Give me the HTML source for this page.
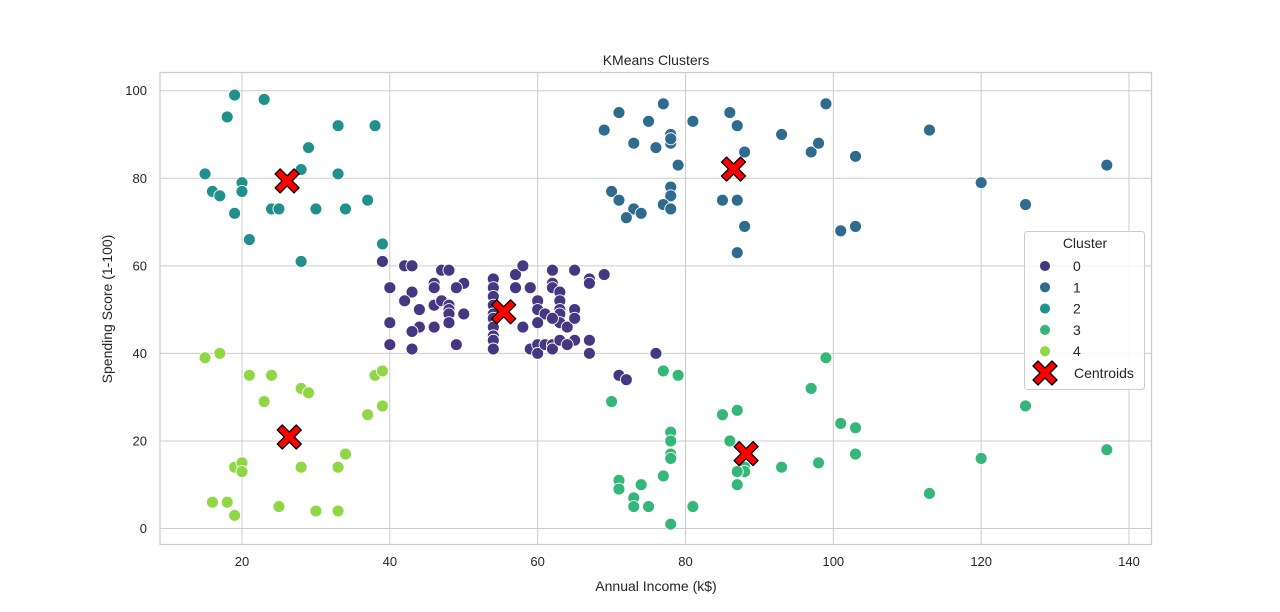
<!DOCTYPE html>
<html><head><meta charset="utf-8"><style>
body{margin:0;background:#fff;}
svg{display:block;font-family:"Liberation Sans",sans-serif;}
</style></head><body>
<svg id="chart" width="1280" height="612" xmlns="http://www.w3.org/2000/svg">
<rect x="0" y="0" width="1280" height="612" fill="#fff"/>
<g id="grid"></g>
<g id="points"></g>
<g id="cents"></g>
<rect x="160" y="72.5" width="991.5" height="472" fill="none" stroke="#cccccc" stroke-width="1.25"/>
<text x="656" y="65" text-anchor="middle" font-size="14" fill="#262626">KMeans Clusters</text>
<text x="656" y="591" text-anchor="middle" font-size="14" fill="#262626">Annual Income (k$)</text>
<text x="112" y="309" text-anchor="middle" font-size="14" fill="#262626" transform="rotate(-90 112 309)">Spending Score (1-100)</text>
<g id="legend"></g>
</svg>
<script>
const xTicks=[20,40,60,80,100,120,140];
const yTicks=[0,20,40,60,80,100];
const colors=["#453781","#2f6b8e","#20908c","#35b779","#8fd744"];
const c0x=[39,42,43,47,48,40,46,46,50,49,43,42,44,46,47,48,48,48,48,50,40,44,43,46,40,43,49,54,54,54,54,54,54,54,54,54,54,57,58,57,59,58,60,60,61,60,59,60,60,61,62,62,63,62,62,62,63,63,63,63,63,62,64,65,65,65,65,64,67,67,69,67,67,76,71,72];
const c0y=[61,60,60,59,59,55,56,55,56,55,54,52,50,51,52,51,50,49,47,49,47,46,45,46,42,41,42,57,55,53,51,49,48,46,44,43,41,58,60,55,55,46,52,50,49,47,41,42,40,42,42,41,43,59,56,55,54,52,50,49,47,48,46,59,50,48,43,42,57,56,58,43,40,40,35,34];
const c1x=[69,71,77,86,99,75,81,87,73,76,78,78,78,78,93,88,97,98,103,113,137,79,70,71,78,78,77,78,73,74,72,85,87,88,87,101,103,120,126];
const c1y=[91,95,97,95,97,93,93,92,88,87,90,89,88,89,90,86,86,88,85,91,83,83,77,75,78,76,74,73,73,72,71,75,75,69,63,68,69,79,74];
const c2x=[19,23,18,33,38,29,15,33,28,16,17,20,20,19,24,25,30,34,37,21,39,28];
const c2y=[99,98,94,92,92,87,81,81,82,77,76,79,77,72,73,73,73,73,75,66,65,61];
const c3x=[77,79,70,85,87,97,99,101,103,126,137,78,78,78,78,86,88,88,87,87,77,93,98,103,120,113,71,71,74,73,73,75,81,78];
const c3y=[36,35,29,26,27,32,39,24,23,28,18,22,20,17,16,20,14,13,13,10,12,14,15,17,16,8,11,9,10,7,5,5,5,1];
const c4x=[15,17,21,24,28,29,23,38,39,37,39,34,19,20,20,28,33,16,18,19,25,30,33];
const c4y=[39,40,35,35,32,31,29,35,36,26,28,17,14,15,13,14,14,6,6,3,5,4,4];
const centX=[55.4,86.5,26.1,88.2,26.4];
const centY=[49.5,82.1,79.4,17.1,20.9];
const NS="http://www.w3.org/2000/svg";
function sx(v){return 242+(v-20)*(1129-242)/120;}
function sy(v){return 528.5-v*(528.5-90.7)/100;}
function mk(t,a,p){const e=document.createElementNS(NS,t);for(const k in a)e.setAttribute(k,a[k]);p.appendChild(e);return e;}
const grid=document.getElementById('grid');
xTicks.forEach(t=>{
  const l=mk('line',{x1:sx(t),x2:sx(t),y1:72.5,y2:544.5,stroke:'#cccccc','stroke-width':1},grid);
  
  
  const tx=mk('text',{x:sx(t),y:566,'text-anchor':'middle','font-size':13,fill:'#262626'},grid);
  tx.textContent=t;
  
  
});
yTicks.forEach(t=>{
  const l=mk('line',{x1:160,x2:1151.5,y1:sy(t),y2:sy(t),stroke:'#cccccc','stroke-width':1},grid);
  
  
  const tx=mk('text',{x:147,y:sy(t)+4.5,'text-anchor':'end','font-size':13,fill:'#262626'},grid);
  tx.textContent=t;
  
  
});
const pts=document.getElementById('points');
const series=[[c0x,c0y],[c1x,c1y],[c2x,c2y],[c3x,c3y],[c4x,c4y]];
series.forEach((s,i)=>{
  s[0].forEach((x,j)=>{
    const c=mk('circle',{cx:sx(x),cy:sy(s[1][j]),r:6,fill:colors[i],stroke:'#fff','stroke-width':0.9},pts);
    
    
  });
});
function xPath(cx,cy,s){
  const a=s*0.42,b=s;
  const P=[[-b,-b+a],[-b+a,-b],[0,-a],[b-a,-b],[b,-b+a],[a,0],[b,b-a],[b-a,b],[0,a],[-b+a,b],[-b,b-a],[-a,0]];
  return 'M'+P.map(p=>(cx+p[0]).toFixed(1)+','+(cy+p[1]).toFixed(1)).join('L')+'Z';
}
const cg=document.getElementById('cents');
centX.forEach((x,i)=>{
  const p=mk('path',{d:xPath(sx(x),sy(centY[i]),12),fill:'#ff0000',stroke:'#000','stroke-width':1.3,'stroke-linejoin':'round'},cg);
  
  
});
const lg=document.getElementById('legend');
const box=mk('rect',{x:1024.5,y:231.5,width:120,height:158,rx:3,fill:'#fff','fill-opacity':0.85,stroke:'#cccccc'},lg);


const tt=mk('text',{x:1085,y:248,'text-anchor':'middle','font-size':14,fill:'#262626'},lg);
tt.textContent='Cluster';


colors.forEach((c,i)=>{
  const y=266+i*21.3;
  const m=mk('circle',{cx:1045,cy:y,r:5.5,fill:c,stroke:'#fff','stroke-width':0.9},lg);
  
  
  const t=mk('text',{x:1073,y:y+5,'font-size':14,fill:'#262626'},lg);
  t.textContent=i;
  
  
});
const lx=mk('path',{d:xPath(1045,373,12),fill:'#ff0000',stroke:'#000','stroke-width':1.3,'stroke-linejoin':'round'},lg);


const lt=mk('text',{x:1074,y:378,'font-size':14,fill:'#262626'},lg);
lt.textContent='Centroids';


</script>
</body></html>
